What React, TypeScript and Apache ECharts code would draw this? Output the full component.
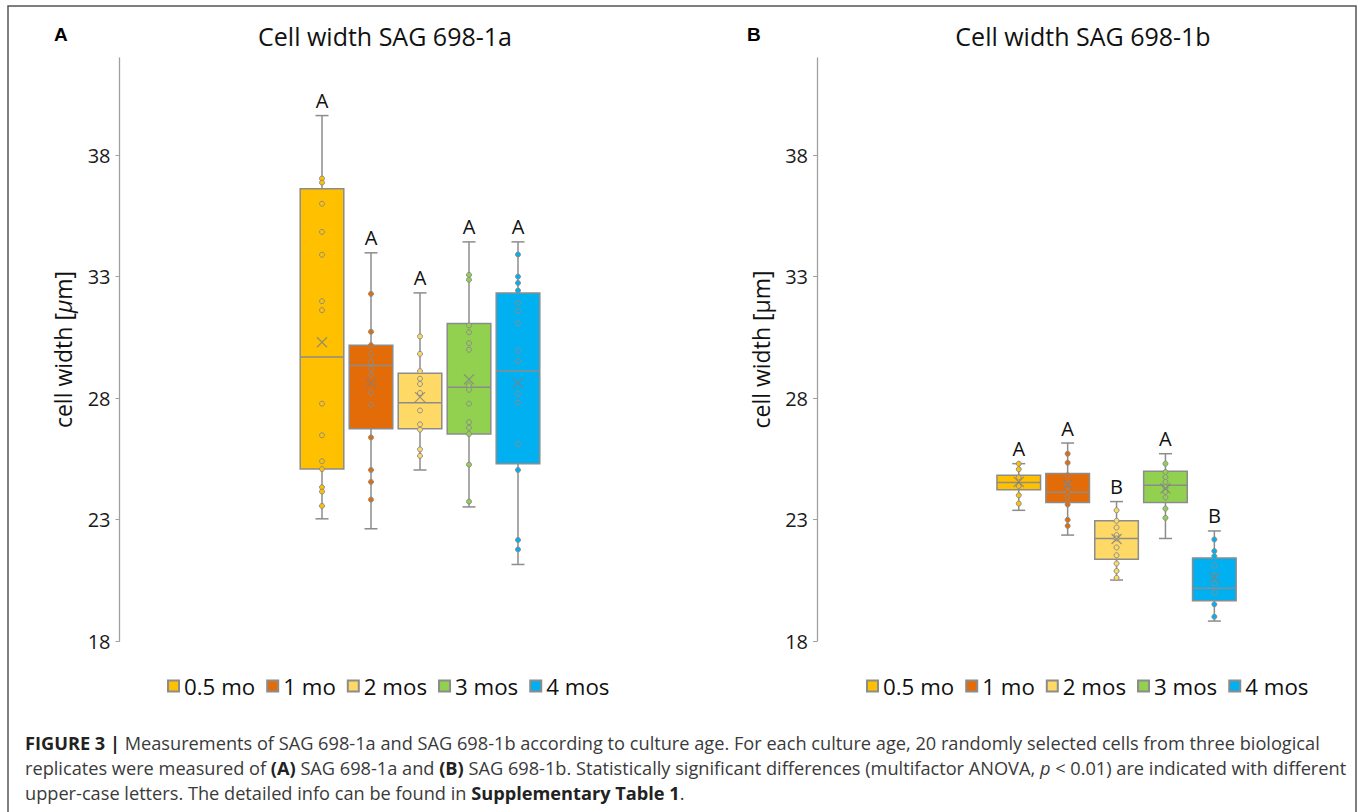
import React, { useEffect, useRef } from 'react';
import * as echarts from 'echarts';

// ---- data ----
const groups = ['0.5 mo', '1 mo', '2 mos', '3 mos', '4 mos'];
const colors = ['#FFC000', '#E36C09', '#FFD966', '#92D050', '#00B0F0'];
const yTicks = [18, 23, 28, 33, 38];

// [lower whisker, Q1, median, Q3, upper whisker]
const statsA = [
  [23.03, 25.08, 29.69, 36.62, 39.63],
  [22.62, 26.74, 29.34, 30.18, 33.98],
  [25.04, 26.74, 27.81, 29.02, 32.33],
  [23.52, 26.52, 28.45, 31.07, 34.43],
  [21.15, 25.3, 29.11, 32.33, 34.43],
];
const statsB = [
  [23.38, 24.23, 24.52, 24.82, 25.3],
  [22.36, 23.7, 24.12, 24.9, 26.15],
  [20.51, 21.37, 22.22, 22.95, 23.74],
  [22.22, 23.7, 24.41, 24.99, 25.71],
  [18.82, 19.66, 20.17, 21.42, 22.53],
];
const meansA = [30.3, 28.62, 28.04, 28.77, 28.62];
const meansB = [24.55, 24.45, 22.2, 24.28, 20.62];
const lettersA = ['A', 'A', 'A', 'A', 'A'];
const lettersB = ['A', 'A', 'B', 'A', 'B'];

const pointsA = [
  [37.04, 36.87, 36.0, 34.84, 33.9, 31.99, 31.62, 27.77, 26.47, 25.4, 25.08, 24.33, 24.15, 23.56],
  [32.29, 30.73, 30.18, 29.82, 29.48, 29.21, 28.96, 28.22, 27.73, 26.38, 25.04, 24.55, 23.82],
  [30.54, 29.82, 29.11, 28.8, 28.58, 28.21, 27.49, 26.92, 26.7, 25.89, 25.62],
  [33.07, 32.87, 30.99, 30.71, 30.26, 29.99, 28.53, 28.34, 27.77, 27.01, 26.78, 26.52, 25.26, 23.74],
  [33.91, 33.0, 32.74, 32.43, 31.92, 31.58, 31.08, 29.96, 29.52, 28.17, 27.81, 26.11, 25.04, 22.16, 21.77],
];
const pointsB = [
  [25.3, 25.07, 24.73, 24.38, 24.0, 23.66],
  [25.71, 25.34, 24.82, 24.48, 24.37, 24.14, 23.93, 23.62, 22.99, 22.74],
  [23.38, 22.95, 22.67, 22.36, 22.22, 21.85, 21.53, 21.19, 20.88, 20.6],
  [25.3, 24.96, 24.75, 24.55, 24.34, 24.14, 23.91, 23.45, 23.07],
  [22.18, 21.7, 21.49, 21.1, 20.71, 20.37, 19.99, 19.51, 19.0],
];

const captionLines = [
  '{b|FIGURE 3 |} Measurements of SAG 698-1a and SAG 698-1b according to culture age. For each culture age, 20 randomly selected cells from three biological',
  'replicates were measured of {b|(A)} SAG 698-1a and {b|(B)} SAG 698-1b. Statistically significant differences (multifactor ANOVA, {i|p} < 0.01) are indicated with different',
  'upper-case letters. The detailed info can be found in {b|Supplementary Table 1}.',
];

const GREY = '#8c8c8c';
const AXIS_GREY = '#a0a0a0';
const FONT = '"Open Sans", "Noto Sans", sans-serif';
const CAP_FONT = '"Liberation Sans", Arial, sans-serif';
const CAPTION_FONT = '"Open Sans", "Noto Sans", sans-serif';
const CAPTION_SIZE = 18.2;

function makeRenderItem(letters: string[]) {
  return (params: any, api: any) => {
    const idx = api.value(0);
    const x = api.coord([idx, 0])[0];
    const yLow = api.coord([idx, api.value(1)])[1];
    const yQ1 = api.coord([idx, api.value(2)])[1];
    const yMed = api.coord([idx, api.value(3)])[1];
    const yQ3 = api.coord([idx, api.value(4)])[1];
    const yHigh = api.coord([idx, api.value(5)])[1];
    const half = 21.8;
    const cap = 6.5;
    const ls = { stroke: GREY, lineWidth: 1.5 };
    return {
      type: 'group',
      children: [
        { type: 'line', shape: { x1: x, y1: yHigh, x2: x, y2: yQ3 }, style: ls },
        { type: 'line', shape: { x1: x, y1: yQ1, x2: x, y2: yLow }, style: ls },
        { type: 'line', shape: { x1: x - cap, y1: yHigh, x2: x + cap, y2: yHigh }, style: ls },
        { type: 'line', shape: { x1: x - cap, y1: yLow, x2: x + cap, y2: yLow }, style: ls },
        {
          type: 'rect',
          shape: { x: x - half, y: yQ3, width: half * 2, height: yQ1 - yQ3 },
          style: { fill: colors[idx], stroke: GREY, lineWidth: 1.5 },
        },
        { type: 'line', shape: { x1: x - half, y1: yMed, x2: x + half, y2: yMed }, style: ls },
        {
          type: 'text',
          x: x,
          y: yHigh - 5,
          style: {
            text: letters[idx],
            align: 'center',
            verticalAlign: 'bottom',
            fontSize: 20,
            fontFamily: FONT,
            fill: '#111',
          },
        },
      ],
    };
  };
}

function panelSeries(gi: number, stats: number[][], points: number[][], means: number[], letters: string[]) {
  const s: any[] = [
    {
      type: 'custom',
      name: 'box' + gi,
      xAxisIndex: gi,
      yAxisIndex: gi,
      renderItem: makeRenderItem(letters),
      encode: { x: 0, y: [1, 2, 3, 4, 5] },
      data: stats.map((st, i) => [i, ...st]),
      z: 2,
    },
  ];
  groups.forEach((g, k) => {
    s.push({
      type: 'scatter',
      name: g,
      xAxisIndex: gi,
      yAxisIndex: gi,
      symbol: 'circle',
      symbolSize: 5,
      itemStyle: { color: colors[k], borderColor: GREY, borderWidth: 1, opacity: 1 },
      data: points[k].map((v) => [k, v]),
      z: 3,
    });
  });
  s.push({
    type: 'scatter',
    name: 'mean' + gi,
    xAxisIndex: gi,
    yAxisIndex: gi,
    symbol: 'path://M0,0L10,10M10,0L0,10',
    symbolSize: 10,
    itemStyle: { color: 'none', borderColor: '#7f7f7f', borderWidth: 1.2 },
    data: means.map((v, i) => [i, v]),
    z: 4,
  });
  return s;
}

function yAxisFor(gi: number, offset: number, italicMu: boolean) {
  return {
    type: 'value',
    gridIndex: gi,
    min: 18,
    max: 42,
    offset: offset,
    splitLine: { show: false },
    axisLine: { show: true, lineStyle: { color: AXIS_GREY, width: 1.3 } },
    axisTick: { show: true, length: 4, lineStyle: { color: AXIS_GREY }, customValues: yTicks },
    axisLabel: {
      customValues: yTicks,
      margin: 9,
      fontSize: 20,
      fontFamily: FONT,
      color: '#1a1a1a',
    },
    name: italicMu ? 'cell width [{i|μ}m]' : 'cell width [μm]',
    nameLocation: 'middle',
    nameGap: 45,
    nameRotate: 90,
    nameTextStyle: {
      fontSize: 23,
      fontFamily: FONT,
      color: '#111',
      rich: { i: { fontSize: 23, fontFamily: FONT, fontStyle: 'italic', color: '#111' } },
    },
  };
}

function legendFor(left: number) {
  return {
    left: left,
    top: 675,
    orient: 'horizontal',
    icon: 'rect',
    itemWidth: 11,
    itemHeight: 11,
    itemGap: 11,
    padding: 0,
    selectedMode: false,
    data: groups,
    textStyle: { fontSize: 22.3, fontFamily: FONT, color: '#111' },
  };
}

const option: any = {
  animation: false,
  backgroundColor: '#ffffff',
  grid: [
    { left: 297.5, width: 245, top: 58, height: 583 },
    { left: 994.3, width: 244.5, top: 58, height: 583 },
  ],
  xAxis: [
    { type: 'category', gridIndex: 0, data: groups, show: false, boundaryGap: true },
    { type: 'category', gridIndex: 1, data: groups, show: false, boundaryGap: true },
  ],
  yAxis: [yAxisFor(0, 178, true), yAxisFor(1, 177.3, false)],
  legend: [legendFor(167), legendFor(866)],
  series: [
    ...panelSeries(0, statsA, pointsA, meansA, lettersA),
    ...panelSeries(1, statsB, pointsB, meansB, lettersB),
  ],
  graphic: [
    {
      type: 'rect',
      silent: true,
      z: -10,
      shape: { x: 8, y: 6, width: 1348, height: 900 },
      style: { fill: 'none', stroke: '#555', lineWidth: 1.5 },
    },
    {
      type: 'text',
      x: 54,
      y: 34,
      style: { text: 'A', fontSize: 19, fontWeight: 'bold', fontFamily: CAP_FONT, fill: '#000', verticalAlign: 'middle' },
    },
    {
      type: 'text',
      x: 747,
      y: 34,
      style: { text: 'B', fontSize: 19, fontWeight: 'bold', fontFamily: CAP_FONT, fill: '#000', verticalAlign: 'middle' },
    },
    {
      type: 'text',
      x: 385,
      y: 36,
      style: { text: 'Cell width SAG 698-1a', fontSize: 25, fontFamily: FONT, fill: '#111', align: 'center', verticalAlign: 'middle' },
    },
    {
      type: 'text',
      x: 1083,
      y: 36,
      style: { text: 'Cell width SAG 698-1b', fontSize: 25, fontFamily: FONT, fill: '#111', align: 'center', verticalAlign: 'middle' },
    },
    ...captionLines.map((line, i) => ({
      type: 'text',
      x: 25,
      y: 743 + i * 25,
      style: {
        text: line,
        fontSize: CAPTION_SIZE,
        fontFamily: CAPTION_FONT,
        fill: '#3a3a3a',
        verticalAlign: 'middle',
        rich: {
          b: { fontSize: CAPTION_SIZE, fontFamily: CAPTION_FONT, fontWeight: 'bold', fill: '#222' },
          i: { fontSize: CAPTION_SIZE, fontFamily: CAPTION_FONT, fontStyle: 'italic', fill: '#3a3a3a' },
        },
      },
    })),
  ],
};

export default function App() {
  const ref = useRef<HTMLDivElement>(null);
  useEffect(() => {
    const chart = echarts.init(ref.current as HTMLDivElement, null, { renderer: 'svg' });
    chart.setOption(option);
    return () => chart.dispose();
  }, []);
  return (
    <div
      ref={ref}
      style={{ position: 'fixed', left: 0, top: 0, width: 1360, height: 812, background: '#fff' }}
    />
  );
}
